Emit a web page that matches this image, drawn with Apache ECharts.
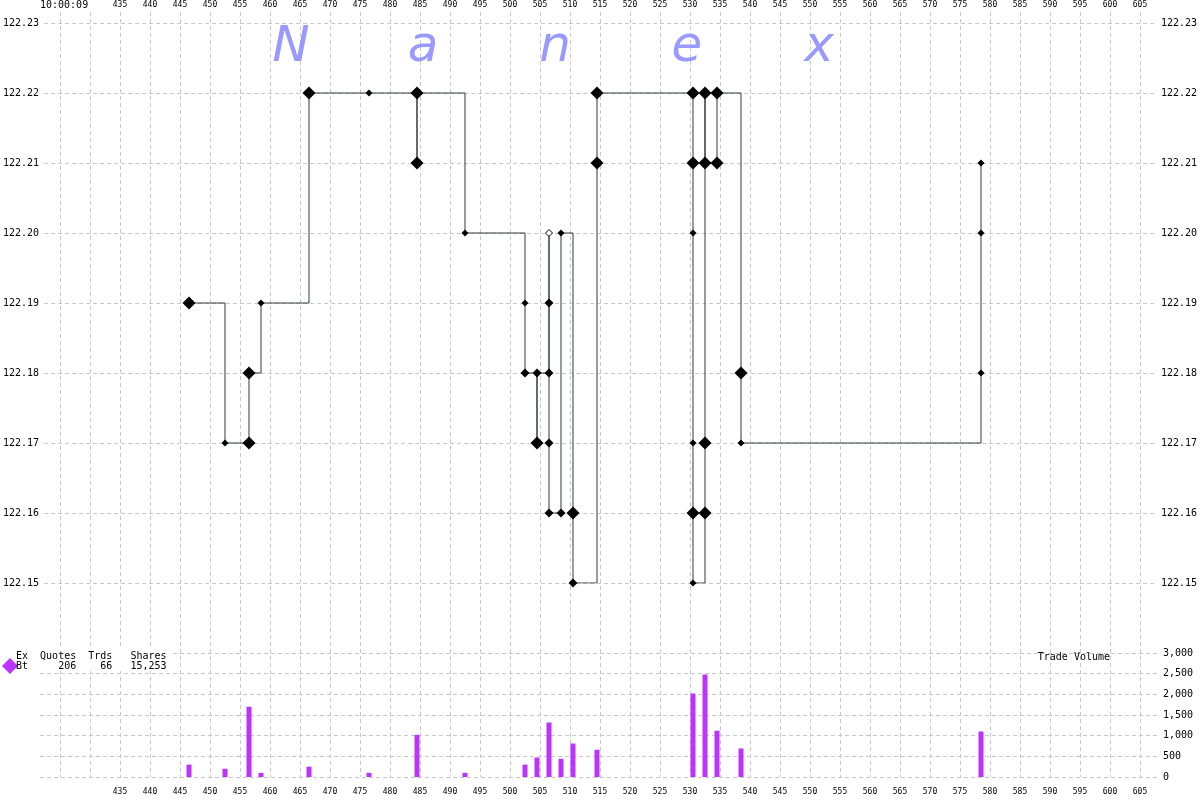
<!DOCTYPE html>
<html>
<head>
<meta charset="utf-8">
<script src="https://cdn.jsdelivr.net/npm/echarts@6/dist/echarts.min.js"></script>
<style>html,body{margin:0;padding:0;background:#fff}#c{width:1200px;height:800px}</style>
</head>
<body>
<div id="c"></div>
<script>
// ---- data ----
var tradeTimes = [446.5,452.5,456.5,456.5,458.5,466.5,476.5,484.5,484.5,492.5,
  502.5,502.5,504.5,504.5,506.5,506.5,506.5,506.5,506.5,508.5,508.5,510.5,510.5,
  514.5,514.5,530.5,530.5,530.5,530.5,530.5,530.5,532.5,532.5,532.5,532.5,534.5,534.5,
  538.5,538.5,578.5,578.5,578.5];
var tradePrices = [122.19,122.17,122.17,122.18,122.19,122.22,122.22,122.21,122.22,122.20,
  122.19,122.18,122.17,122.18,122.20,122.19,122.18,122.17,122.16,122.16,122.20,122.16,122.15,
  122.21,122.22,122.22,122.21,122.20,122.17,122.16,122.15,122.16,122.17,122.22,122.21,122.21,122.22,
  122.18,122.17,122.18,122.20,122.21];
// marker class: L large, M medium, S small, H hollow
var tradeClass = ['L','S','L','L','S','L','S','L','L','S',
  'S','M','L','M','H','M','M','M','M','M','S','L','M',
  'L','L','L','L','S','S','L','S','L','L','L','L','L','L',
  'L','S','S','S','S'];
var volTimes = [446.5,452.5,456.5,458.5,466.5,476.5,484.5,492.5,502.5,504.5,506.5,508.5,510.5,514.5,530.5,532.5,534.5,538.5,578.5];
var volShares = [300,200,1700,100,250,100,1020,100,300,470,1320,440,810,660,2020,2480,1120,690,1100];
var priceTicks = [122.15,122.23,0.01];
var volTicks = [0,3000,500];
var timeTicks = [425,605,5];
var hiddenTimeLabels = [425,430];
var startTime = '10:00:09';
var legendHead = 'Ex  Quotes  Trds   Shares';
var legendRow  = 'Bt     206    66   15,253';
var watermark = ['N','a','n','e','x'];

// ---- chart ----
var sizeMap = {L:13, M:9, S:7, H:7};
var pts = tradeTimes.map(function(t,i){
  var c = tradeClass[i];
  return {value:[t,tradePrices[i]], symbolSize:sizeMap[c],
    itemStyle: c==='H' ? {color:'#fff', borderColor:'#000', borderWidth:1} : {color:'#000', borderWidth:0}};
});
var vol = volTimes.map(function(t,i){return [t,volShares[i]];});

var mono = 'DejaVu Sans Mono';
var grid = '#c8c8c8';
var dash = {color:grid, type:[4,3], width:1};
function fmtComma(v){return String(v).replace(/\B(?=(\d{3})+(?!\d))/g, ',');}

var chart = echarts.init(document.getElementById('c'), null, {renderer:'canvas'});
var graphic = [];
watermark.forEach(function(ch,i){
  graphic.push({type:'text', z:1, x:291+i*132, y:48,
    style:{text:ch, fill:'#9999ff', font:'italic 50px "DejaVu Sans"', textAlign:'center', textVerticalAlign:'middle'}});
});
graphic.push({type:'text', x:40, y:5, style:{text:startTime, fill:'#000', font:'10px "'+mono+'"', textAlign:'left', textVerticalAlign:'middle'}});
graphic.push({type:'rect', z:5, shape:{x:0,y:647,width:172,height:24}, style:{fill:'#fff'}});
graphic.push({type:'polygon', z:6, shape:{points:[[10,658],[18,666],[10,674],[2,666]]}, style:{fill:'#bb33ff'}});
graphic.push({type:'text', z:6, x:16, y:656, style:{text:legendHead, fill:'#000', font:'10px "'+mono+'"', textAlign:'left', textVerticalAlign:'middle'}});
graphic.push({type:'text', z:6, x:16, y:666, style:{text:legendRow, fill:'#000', font:'10px "'+mono+'"', textAlign:'left', textVerticalAlign:'middle'}});
graphic.push({type:'text', z:6, x:1110, y:657, style:{text:'Trade Volume', fill:'#000', font:'10px "'+mono+'"', textAlign:'right', textVerticalAlign:'middle'}});

var option = {
  animation:false,
  backgroundColor:'#fff',
  graphic:graphic,
  grid:[
    {left:60, right:60, top:23, height:560},   // 0 price series
    {left:40, right:43, top:23, height:560},   // 1 price gridlines
    {left:60, right:60, top:653, height:124},  // 2 volume bars
    {left:40, right:43, top:653, height:124},  // 3 volume gridlines
    {left:60, right:60, top:12, bottom:23}     // 4 time gridlines
  ],
  xAxis:[
    {gridIndex:0, type:'value', min:timeTicks[0], max:timeTicks[1], show:false},
    {gridIndex:1, type:'value', min:0, max:1, show:false},
    {gridIndex:2, type:'value', min:timeTicks[0], max:timeTicks[1], show:false},
    {gridIndex:3, type:'value', min:0, max:1, show:false},
    {gridIndex:4, type:'value', position:'top', min:timeTicks[0], max:timeTicks[1], interval:timeTicks[2],
      axisLine:{show:false}, axisTick:{show:false}, splitLine:{show:true, lineStyle:dash},
      axisLabel:{margin:3, fontFamily:mono, fontSize:8, color:'#000', showMinLabel:true, showMaxLabel:true,
        formatter:function(v){return hiddenTimeLabels.indexOf(v)>=0?'':String(v);}}},
    {gridIndex:4, type:'value', position:'bottom', min:timeTicks[0], max:timeTicks[1], interval:timeTicks[2],
      axisLine:{show:false}, axisTick:{show:false}, splitLine:{show:false},
      axisLabel:{margin:11, fontFamily:mono, fontSize:8, color:'#000', showMinLabel:true, showMaxLabel:true,
        formatter:function(v){return hiddenTimeLabels.indexOf(v)>=0?'':String(v);}}}
  ],
  yAxis:[
    {gridIndex:0, type:'value', min:priceTicks[0], max:priceTicks[1], show:false},
    {gridIndex:1, type:'value', position:'left', min:priceTicks[0], max:priceTicks[1], interval:priceTicks[2],
      axisLine:{show:false}, axisTick:{show:false}, splitLine:{show:true, lineStyle:dash},
      axisLabel:{margin:5, fontFamily:mono, fontSize:10, color:'#000', formatter:function(v){return v.toFixed(2);}}},
    {gridIndex:1, type:'value', position:'right', min:priceTicks[0], max:priceTicks[1], interval:priceTicks[2],
      axisLine:{show:false}, axisTick:{show:false}, splitLine:{show:false},
      axisLabel:{margin:6, fontFamily:mono, fontSize:10, color:'#000', formatter:function(v){return v.toFixed(2);}}},
    {gridIndex:2, type:'value', min:volTicks[0], max:volTicks[1], show:false},
    {gridIndex:3, type:'value', position:'right', min:volTicks[0], max:volTicks[1], interval:volTicks[2],
      axisLine:{show:false}, axisTick:{show:false}, splitLine:{show:true, lineStyle:dash},
      axisLabel:{margin:6, fontFamily:mono, fontSize:10, color:'#000', formatter:fmtComma}},
    {gridIndex:4, type:'value', min:0, max:1, show:false}
  ],
  series:[
    {type:'line', xAxisIndex:0, yAxisIndex:0, data:pts, step:'end', symbol:'diamond',
      lineStyle:{color:'#333a3c', width:1}, z:3},
    {type:'bar', xAxisIndex:2, yAxisIndex:3, data:vol, barWidth:5, itemStyle:{color:'#bb33ff'}, z:3}
  ]
};
chart.setOption(option);
</script>
</body>
</html>
